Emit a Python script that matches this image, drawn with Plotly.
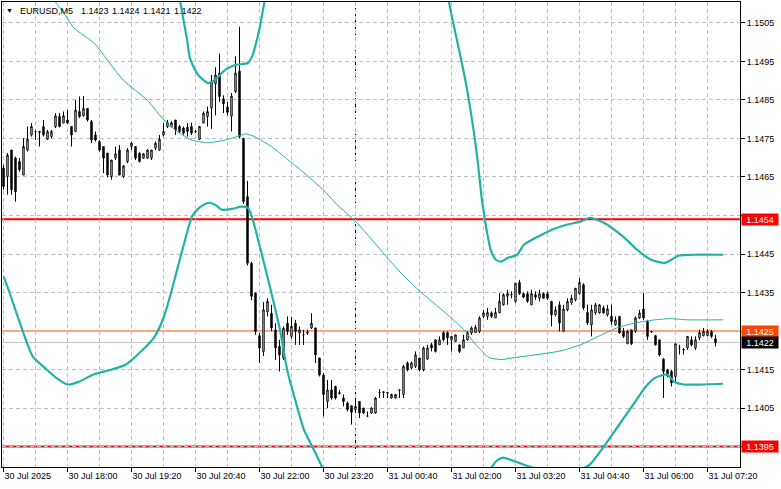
import plotly.graph_objects as go

# ---------------- data ----------------
bars = list(range(179))  # M5 bars starting 30 Jul 2025 16:40

open_ = [
1.14673,1.14651,1.14720,1.14699,1.14690,1.14655,1.14720,1.14759,1.14768,1.14768,
1.14781,1.14748,1.14755,1.14781,1.14807,1.14790,1.14798,1.14781,1.14768,1.14820,
1.14809,1.14828,1.14794,1.14759,1.14742,1.14729,1.14712,1.14651,1.14699,1.14720,
1.14651,1.14690,1.14729,1.14729,1.14712,1.14699,1.14699,1.14699,1.14725,1.14720,
1.14759,1.14781,1.14781,1.14798,1.14781,1.14777,1.14779,1.14781,1.14768,1.14748,
1.14790,1.14807,1.14829,1.14892,1.14920,1.14853,1.14832,1.14808,1.14872,1.14925,
1.14750,1.14599,1.14426,1.14348,1.14238,1.14197,1.14300,1.14296,1.14253,1.14210,
1.14180,1.14270,1.14236,1.14270,1.14245,1.14240,1.14247,1.14258,1.14258,1.14180,
1.14136,1.14067,1.14097,1.14106,1.14090,1.14076,1.14063,1.14056,1.14046,1.14067,
1.14050,1.14029,1.14037,1.14037,1.14090,1.14092,1.14090,1.14076,1.14076,1.14097,
1.14085,1.14167,1.14154,1.14158,1.14180,1.14149,1.14177,1.14214,1.14227,1.14214,
1.14246,1.14246,1.14227,1.14223,1.14214,1.14206,1.14227,1.14245,1.14246,1.14249,
1.14288,1.14288,1.14297,1.14284,1.14297,1.14318,1.14340,1.14344,1.14327,1.14376,
1.14347,1.14347,1.14318,1.14344,1.14335,1.14347,1.14347,1.14327,1.14292,1.14318,
1.14249,1.14305,1.14323,1.14331,1.14347,1.14370,1.14298,1.14266,1.14297,1.14297,
1.14310,1.14292,1.14288,1.14266,1.14288,1.14249,1.14217,1.14253,1.14249,1.14284,
1.14307,1.14275,1.14249,1.14238,1.14227,1.14177,1.14149,1.14145,1.14132,1.14206,
1.14202,1.14206,1.14227,1.14206,1.14232,1.14238,1.14238,1.14249,1.14230]

high = [
1.14681,1.14712,1.14720,1.14703,1.14699,1.14751,1.14781,1.14790,1.14772,1.14770,
1.14798,1.14772,1.14772,1.14816,1.14816,1.14820,1.14824,1.14781,1.14850,1.14859,
1.14860,1.14828,1.14798,1.14768,1.14746,1.14729,1.14712,1.14694,1.14729,1.14733,
1.14681,1.14725,1.14742,1.14729,1.14714,1.14712,1.14722,1.14720,1.14742,1.14759,
1.14790,1.14798,1.14795,1.14798,1.14785,1.14781,1.14790,1.14791,1.14772,1.14781,
1.14820,1.14833,1.14915,1.14935,1.14970,1.14862,1.14845,1.14868,1.14963,1.15040,
1.14752,1.14640,1.14430,1.14350,1.14245,1.14325,1.14335,1.14318,1.14270,1.14227,
1.14262,1.14288,1.14287,1.14279,1.14262,1.14253,1.14253,1.14296,1.14258,1.14180,
1.14141,1.14123,1.14123,1.14108,1.14097,1.14085,1.14067,1.14056,1.14076,1.14067,
1.14050,1.14041,1.14052,1.14078,1.14099,1.14093,1.14092,1.14087,1.14087,1.14099,
1.14162,1.14171,1.14171,1.14197,1.14180,1.14210,1.14214,1.14219,1.14227,1.14236,
1.14249,1.14249,1.14236,1.14240,1.14214,1.14240,1.14249,1.14262,1.14266,1.14288,
1.14305,1.14310,1.14301,1.14310,1.14348,1.14348,1.14357,1.14353,1.14374,1.14383,
1.14350,1.14353,1.14357,1.14353,1.14357,1.14350,1.14352,1.14327,1.14314,1.14327,
1.14318,1.14335,1.14344,1.14361,1.14387,1.14374,1.14318,1.14318,1.14323,1.14320,
1.14316,1.14318,1.14318,1.14288,1.14288,1.14258,1.14253,1.14253,1.14288,1.14305,
1.14348,1.14279,1.14250,1.14240,1.14227,1.14180,1.14152,1.14149,1.14217,1.14214,
1.14206,1.14236,1.14236,1.14236,1.14253,1.14258,1.14255,1.14253,1.14240]

low = [
1.14617,1.14604,1.14604,1.14586,1.14664,1.14655,1.14716,1.14755,1.14746,1.14729,
1.14755,1.14746,1.14750,1.14777,1.14779,1.14790,1.14788,1.14729,1.14768,1.14803,
1.14807,1.14794,1.14738,1.14742,1.14716,1.14660,1.14649,1.14643,1.14694,1.14655,
1.14647,1.14686,1.14720,1.14694,1.14688,1.14697,1.14697,1.14694,1.14720,1.14718,
1.14755,1.14777,1.14779,1.14759,1.14764,1.14760,1.14755,1.14759,1.14764,1.14746,
1.14790,1.14781,1.14775,1.14810,1.14845,1.14816,1.14810,1.14768,1.14868,1.14750,
1.14580,1.14420,1.14330,1.14240,1.14167,1.14185,1.14288,1.14250,1.14175,1.14145,
1.14175,1.14240,1.14230,1.14214,1.14214,1.14214,1.14240,1.14255,1.14167,1.14132,
1.14028,1.14050,1.14072,1.14072,1.14085,1.14054,1.14041,1.14007,1.14037,1.14024,
1.14035,1.14028,1.14035,1.14035,1.14076,1.14076,1.14076,1.14074,1.14074,1.14076,
1.14076,1.14145,1.14151,1.14154,1.14145,1.14145,1.14175,1.14197,1.14194,1.14214,
1.14223,1.14214,1.14197,1.14223,1.14193,1.14206,1.14225,1.14240,1.14245,1.14245,
1.14284,1.14279,1.14284,1.14284,1.14297,1.14316,1.14318,1.14335,1.14323,1.14344,
1.14335,1.14323,1.14318,1.14331,1.14327,1.14333,1.14331,1.14262,1.14288,1.14249,
1.14249,1.14301,1.14318,1.14327,1.14344,1.14305,1.14266,1.14236,1.14292,1.14295,
1.14295,1.14288,1.14266,1.14264,1.14243,1.14232,1.14217,1.14214,1.14245,1.14281,
1.14279,1.14227,1.14245,1.14212,1.14184,1.14076,1.14130,1.14106,1.14115,1.14189,
1.14189,1.14201,1.14210,1.14201,1.14226,1.14236,1.14236,1.14232,1.14210]

close = [
1.14625,1.14707,1.14617,1.14612,1.14669,1.14729,1.14748,1.14781,1.14768,1.14766,
1.14759,1.14768,1.14768,1.14809,1.14781,1.14809,1.14790,1.14759,1.14824,1.14807,
1.14828,1.14798,1.14746,1.14746,1.14720,1.14699,1.14655,1.14694,1.14710,1.14655,
1.14679,1.14720,1.14738,1.14699,1.14690,1.14710,1.14720,1.14720,1.14738,1.14748,
1.14768,1.14791,1.14791,1.14772,1.14768,1.14764,1.14768,1.14764,1.14767,1.14781,
1.14816,1.14820,1.14898,1.14915,1.14859,1.14840,1.14818,1.14860,1.14920,1.14755,
1.14586,1.14426,1.14340,1.14249,1.14206,1.14305,1.14327,1.14258,1.14206,1.14188,
1.14257,1.14249,1.14262,1.14249,1.14253,1.14240,1.14245,1.14270,1.14188,1.14136,
1.14085,1.14097,1.14076,1.14076,1.14088,1.14067,1.14046,1.14039,1.14054,1.14037,
1.14037,1.14029,1.14050,1.14076,1.14090,1.14090,1.14089,1.14085,1.14085,1.14096,
1.14158,1.14149,1.14167,1.14188,1.14149,1.14206,1.14206,1.14206,1.14197,1.14227,
1.14227,1.14232,1.14236,1.14240,1.14197,1.14227,1.14246,1.14258,1.14260,1.14284,
1.14297,1.14298,1.14288,1.14298,1.14327,1.14344,1.14347,1.14345,1.14374,1.14347,
1.14338,1.14327,1.14347,1.14338,1.14347,1.14335,1.14335,1.14292,1.14305,1.14271,
1.14307,1.14327,1.14335,1.14361,1.14376,1.14310,1.14271,1.14305,1.14318,1.14318,
1.14297,1.14307,1.14275,1.14279,1.14245,1.14236,1.14249,1.14217,1.14284,1.14297,
1.14284,1.14236,1.14248,1.14214,1.14188,1.14145,1.14134,1.14115,1.14217,1.14206,
1.14201,1.14236,1.14214,1.14227,1.14246,1.14249,1.14249,1.14236,1.14220]

# Bollinger bands (higher-timeframe), bar index -> price
bb_up_bar = [36.6, 40.4, 42.9, 44.1, 44.9, 45.9, 46.6, 47.9, 49.1, 51.1, 52.4, 53.4, 55.4, 57.9,
             61.1, 62.1, 62.9, 64.1, 65.1, 66.1, 69.1, 86.6, 104.1, 109.1, 111.25, 112.1, 113.9,
             115.6, 117.4, 118.5, 119.6, 120.25, 120.9, 121.8, 123.1, 124.4, 126.1, 128.4, 130.1,
             133.6, 137.1, 140.75, 144.25, 146.6, 150.1, 154.9, 158.4, 161.9, 165.4, 168.9, 172.4, 179.9]
bb_up_val = [1.15395, 1.15239, 1.15149, 1.15110, 1.15063, 1.15006, 1.14959, 1.14928, 1.14910,
             1.14894, 1.14899, 1.14907, 1.14928, 1.14941, 1.14946, 1.14962, 1.14988, 1.15040,
             1.15097, 1.15149, 1.15317, 1.15758, 1.15421, 1.15188, 1.15110, 1.15066, 1.14980,
             1.14894, 1.14780, 1.14695, 1.14591, 1.14547, 1.14505, 1.14461, 1.14435, 1.14430,
             1.14440, 1.14448, 1.14474, 1.14495, 1.14513, 1.14526, 1.14534, 1.14544, 1.14531,
             1.14495, 1.14461, 1.14435, 1.14427, 1.14446, 1.14448, 1.14448]

bb_mid_bar = [7.9, 12.6, 15.4, 17.6, 22.6, 29.9, 35.9, 40.1, 43.6, 47.1, 51.1, 55.4, 58.9, 60.6,
              62.9, 67.1, 71.1, 75.1, 79.9, 83.4, 88.1, 92.75, 98.6, 104.4, 110.4, 115.0, 118.5,
              121.4, 124.4, 127.9, 133.6, 139.6, 144.4, 149.1, 153.6, 158.4, 162.9, 166.6, 171.1, 179.9]
bb_mid_val = [1.15200, 1.15110, 1.15071, 1.15037, 1.14998, 1.14902, 1.14850, 1.14798, 1.14767,
              1.14746, 1.14739, 1.14746, 1.14757, 1.14762, 1.14754, 1.14728, 1.14695, 1.14661,
              1.14617, 1.14578, 1.14534, 1.14479, 1.14409, 1.14350, 1.14298, 1.14254, 1.14210,
              1.14181, 1.14176, 1.14181, 1.14189, 1.14199, 1.14215, 1.14238, 1.14259, 1.14272,
              1.14279, 1.14282, 1.14279, 1.14279]

bb_lo_bar = [0.05, 1.5, 3.8, 7.3, 10.8, 13.1, 16.1, 19.0, 22.5, 27.1, 30.6, 34.1, 37.75, 40.1,
             41.9, 43.6, 45.4, 47.1, 48.9, 51.1, 52.9, 54.6, 57.1, 59.4, 61.1, 62.1, 64.1, 66.6,
             69.1, 70.9, 72.9, 75.1, 77.55, 79.9, 84.1, 94.1, 104.1, 114.1, 120.4, 123.1, 124.9,
             127.9, 131.4, 133.6, 139.1, 144.25, 146.6, 150.1, 153.6, 157.1, 160.6, 163.0, 165.9,
             167.6, 170.0, 173.5, 179.9]
bb_lo_val = [1.14391, 1.14350, 1.14280, 1.14184, 1.14150, 1.14129, 1.14111, 1.14119, 1.14137,
             1.14150, 1.14163, 1.14194, 1.14235, 1.14287, 1.14350, 1.14417, 1.14487, 1.14547,
             1.14570, 1.14583, 1.14578, 1.14565, 1.14567, 1.14573, 1.14570, 1.14547, 1.14469,
             1.14365, 1.14254, 1.14150, 1.14072, 1.13994, 1.13942, 1.13890, 1.13735, 1.13553,
             1.13605, 1.13761, 1.13870, 1.13911, 1.13921, 1.13911, 1.13898, 1.13890, 1.13864,
             1.13890, 1.13903, 1.13950, 1.14002, 1.14054, 1.14106, 1.14129, 1.14137, 1.14119,
             1.14111, 1.14111, 1.14113]

tick_bars = [0, 16, 32, 48, 64, 80, 96, 112, 128, 144, 160, 176]
tick_labels = ["30 Jul 2025", "30 Jul 18:00", "30 Jul 19:20", "30 Jul 20:40", "30 Jul 22:00",
               "30 Jul 23:20", "31 Jul 00:40", "31 Jul 02:00", "31 Jul 03:20", "31 Jul 04:40",
               "31 Jul 06:00", "31 Jul 07:20"]
grid_bars = [8, 24, 40, 56, 72, 88, 104, 120, 136, 152, 168]
price_ticks = [1.1395, 1.1405, 1.1415, 1.1425, 1.1435, 1.1445, 1.1455, 1.1465, 1.1475,
               1.1485, 1.1495, 1.1505]
price_tick_labels = ["", "1.1405", "1.1415", "", "1.1435", "1.1445", "", "1.1465", "1.1475",
                     "1.1485", "1.1495", "1.1505"]

day_separator_bar = 88
level_red = [1.1454, 1.1395]
level_orange = 1.1425
bid = 1.1422
symbol = "EURUSD,M5"
last_ohlc = ["1.1423", "1.1424", "1.1421", "1.1422"]

# ---------------- layout geometry ----------------
W, H = 781, 489
ML, MR, MT, MB = 2, 41, 2, 22
PW = W - ML - MR
PH = H - MT - MB

def px_x(p):
    return (p - ML) / PW

def px_y(p):
    return 1 - (p - MT) / PH

FONT = "Liberation Sans"
TEAL = "#20b2aa"

fig = go.Figure()

fig.add_trace(go.Candlestick(
    x=bars, open=open_, high=high, low=low, close=close,
    increasing=dict(line=dict(color="black", width=1), fillcolor="white"),
    decreasing=dict(line=dict(color="black", width=1), fillcolor="black"),
    whiskerwidth=0, showlegend=False, hoverinfo="skip"))

for xs, ys, w in [(bb_up_bar, bb_up_val, 2.2), (bb_mid_bar, bb_mid_val, 1), (bb_lo_bar, bb_lo_val, 2.2)]:
    fig.add_trace(go.Scatter(x=xs, y=ys, mode="lines",
                             line=dict(color=TEAL, width=w, shape="spline", smoothing=0.6),
                             showlegend=False, hoverinfo="skip"))

shapes = []
for lv in level_red:
    shapes.append(dict(type="line", xref="paper", x0=0, x1=1, yref="y", y0=lv, y1=lv,
                       line=dict(color="#ff0000", width=2), layer="between"))
shapes.append(dict(type="line", xref="paper", x0=0, x1=1, yref="y", y0=level_orange, y1=level_orange,
                   line=dict(color="#ff4500", width=1), layer="between"))
shapes.append(dict(type="line", xref="paper", x0=0, x1=1, yref="y", y0=bid, y1=bid,
                   line=dict(color="#c0c0c0", width=1), layer="between"))
shapes.append(dict(type="line", xref="x", x0=day_separator_bar, x1=day_separator_bar, yref="paper", y0=0, y1=1,
                   line=dict(color="black", width=1, dash="3px,3px"), layer="between"))

annotations = []
for val, col in [(level_red[0], "#ff0000"), (level_orange, "#ff4500"), (bid, "#000000"), (level_red[1], "#ff0000")]:
    annotations.append(dict(xref="paper", x=px_x(741), xanchor="left", yref="y", y=val, yanchor="middle",
                            text=f"{val:.4f}", showarrow=False, bgcolor=col, width=34, height=9,
                            align="center", borderpad=1,
                            font=dict(family=FONT, size=9, color="white")))
# title pieces: symbol then last bar O/H/L/C
title_x = [18, 79, 110, 141, 172]
for txt, xp in zip([symbol] + last_ohlc, title_x):
    annotations.append(dict(xref="paper", x=px_x(xp), xanchor="left", yref="paper", y=px_y(10.5),
                            yanchor="middle", text=txt, showarrow=False,
                            font=dict(family=FONT, size=9, color="black")))
annotations.append(dict(xref="paper", x=px_x(9), xanchor="center", yref="paper", y=px_y(10.5),
                        yanchor="middle", text="▼", showarrow=False,
                        font=dict(family=FONT, size=7, color="black")))

GRID = "#c0c0c0"
fig.update_layout(
    width=W, height=H, margin=dict(l=ML, r=MR, t=MT, b=MB, pad=0),
    paper_bgcolor="white", plot_bgcolor="white",
    boxgap=0.5,
    showlegend=False, shapes=shapes, annotations=annotations,
    xaxis=dict(range=[(ML - 3.5) / 4, (ML - 3.5) / 4 + PW / 4],
               tickmode="array", tickvals=tick_bars, ticktext=tick_labels,
               ticks="outside", ticklen=4, tickcolor="black",
               ticklabelposition="outside right",
               tickfont=dict(family=FONT, size=9, color="black"),
               showgrid=True, gridcolor=GRID, griddash="4px,3px", gridwidth=1,
               minor=dict(tickvals=grid_bars, showgrid=True, gridcolor=GRID, griddash="4px,3px", ticks=""),
               showline=True, linecolor="black", linewidth=1, mirror=True,
               zeroline=False, rangeslider=dict(visible=False), fixedrange=True),
    yaxis=dict(side="right", range=[1.1505 - 444.5 / 38545, 1.1505 + 21 / 38545],
               tickmode="array", tickvals=price_ticks, ticktext=price_tick_labels,
               ticks="outside", ticklen=4, tickcolor="black",
               tickfont=dict(family=FONT, size=9, color="black"),
               showgrid=True, gridcolor=GRID, griddash="4px,3px", gridwidth=1,
               showline=True, linecolor="black", linewidth=1, mirror=True,
               zeroline=False, fixedrange=True),
)

fig.write_html("out.html", config={"displayModeBar": False},
               post_script="document.body.style.margin='0';document.body.style.overflow='hidden';")
